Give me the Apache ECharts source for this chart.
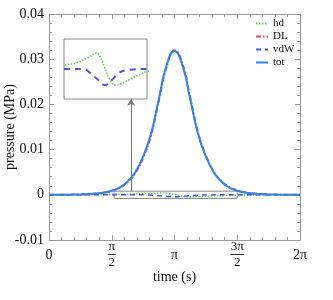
<!DOCTYPE html>
<html><head><meta charset="utf-8">
<script src="https://cdn.jsdelivr.net/npm/echarts@6/dist/echarts.min.js"></script>
<style>html,body{margin:0;padding:0;background:#fff}#c{width:333px;height:300px}</style>
</head><body><div id="c"></div>
<script>
// ---- data ----
var PI = Math.PI;
// sample times for tot / DL (k * pi/16, k = 0..32)
var tMain = [0,0.19635,0.3927,0.58905,0.7854,0.98175,1.1781,1.37445,1.5708,1.76715,1.9635,2.15985,2.3562,2.55255,2.7489,2.94525,3.14159,3.33794,3.53429,3.73064,3.92699,4.12334,4.31969,4.51604,4.71239,4.90874,5.10509,5.30144,5.49779,5.69414,5.89049,6.08684,6.28319];
var pTot = [0,0.00001,0.00002,0.00004,0.00008,0.00015,0.00028,0.0005,0.0009,0.0016,0.0029,0.005,0.0085,0.0135,0.0212,0.0287,0.0318,0.0287,0.0212,0.0135,0.0085,0.005,0.0029,0.0016,0.0009,0.0005,0.00028,0.00015,0.00008,0.00004,0.00002,0.00001,0];
var pDL  = [0,0.00001,0.00002,0.00004,0.00008,0.00015,0.00027,0.00048,0.00087,0.00155,0.0028,0.0048,0.0082,0.0131,0.0208,0.0283,0.0320,0.0291,0.0216,0.0138,0.0087,0.0051,0.0030,0.0017,0.0010,0.00055,0.0003,0.00016,0.00008,0.00004,0.00002,0.00001,0];
var tHd = [0,0.8,1.2,1.667,2.102,2.474,2.782,2.82,2.968,3.154,3.34,3.526,3.775,4.083,4.392,4.704,5.2,5.8,6.28319];
var pHd = [0,0.00002,0.00005,0.000107,0.000168,0.000285,0.000419,0.000435,0.000328,0.000019,-0.000293,-0.000427,-0.000381,-0.000275,-0.00016,-0.000072,-0.00003,-0.00001,0];
var tVdw = [0,1.667,2.347,2.597,2.905,3.154,3.403,3.649,3.961,4.704,6.28319];
var pVdw = [0,0,0,-0.0001,-0.000293,-0.000427,-0.000293,-0.000115,-0.00003,0,0];
var xTickLabels = ['{s|0}','{n|\u03c0}\n{b|}\n{d|2}','{s|\u03c0}','{n|3\u03c0}\n{bw|}\n{d|2}','{s|2\u03c0}'];
var insetX = [1.63, 4.71];
var insetY = [-0.0008, 0.0008];
var arrowT = 2.053, arrowTop = 0.02124;

function zip(a,b){return a.map(function(v,i){return [v,b[i]];});}

var FONT = "'Liberation Serif', 'DejaVu Serif', serif";
var C = {hd:'#55cc55', DL:'#d64d4d', vdW:'#5555d5', tot:'#2f86e8'};
var axisCol = '#999';

var chart = echarts.init(document.getElementById('c'), null, {renderer:'canvas'});
var mainGrid = {left:49, right:33, top:14, bottom:60, containLabel:false, outerBoundsMode:'none'};
var insetGrid = {left:64, top:39, width:83, height:60, show:true, borderColor:'#888', borderWidth:1, backgroundColor:'#fff', z:5, outerBoundsMode:'none'};

function tickAxis(extra){
  return Object.assign({
    axisLine:{show:true, onZero:false, lineStyle:{color:axisCol, width:1}},
    axisTick:{show:true, inside:true, length:5, lineStyle:{color:axisCol}},
    minorTick:{show:true, splitNumber:5, length:3, lineStyle:{color:axisCol}},
    splitLine:{show:false}
  }, extra);
}

var option = {
  animation:false,
  textStyle:{fontFamily:FONT},
  grid:[mainGrid, insetGrid],
  legend:{
    orient:'vertical', left:255, top:18, padding:0, itemWidth:12, itemHeight:8, itemGap:2,
    data:['hd','DL','vdW','tot'],
    textStyle:{fontFamily:FONT, fontSize:11, color:'#111', lineHeight:10},
    itemStyle:{opacity:0}
  },
  xAxis:[
    tickAxis({type:'value', gridIndex:0, min:0, max:2*PI, interval:PI/2, position:'bottom',
      name:'time (s)', nameLocation:'middle', nameGap:30, nameMoveOverlap:false,
      nameTextStyle:{fontFamily:FONT, fontSize:14, color:'#111'},
      axisLabel:{margin:15, verticalAlign:'middle', fontFamily:FONT, fontSize:14, color:'#111',
        formatter:function(v){return xTickLabels[Math.round(v/(PI/2))];},
        rich:{
          n:{fontFamily:FONT, fontSize:13, lineHeight:11, align:'center', color:'#111'},
          d:{fontFamily:FONT, fontSize:13, lineHeight:12, align:'center', color:'#111'},
          s:{fontFamily:FONT, fontSize:14, align:'center', color:'#111'},
          b:{width:8, height:1, backgroundColor:'#333', lineHeight:5, align:'center'},
          bw:{width:14, height:1, backgroundColor:'#333', lineHeight:5, align:'center'}
        }}}),
    tickAxis({type:'value', gridIndex:0, min:0, max:2*PI, interval:PI/2, position:'top', axisLabel:{show:false}}),
    {type:'value', gridIndex:1, min:insetX[0], max:insetX[1], show:false}
  ],
  yAxis:[
    tickAxis({type:'value', gridIndex:0, min:-0.01, max:0.04, interval:0.01, position:'left',
      name:'pressure (MPa)', nameLocation:'middle', nameGap:32, nameMoveOverlap:false,
      nameTextStyle:{fontFamily:FONT, fontSize:14, color:'#111'},
      axisLabel:{margin:5, fontFamily:FONT, fontSize:14, color:'#111'}}),
    tickAxis({type:'value', gridIndex:0, min:-0.01, max:0.04, interval:0.01, position:'right', axisLabel:{show:false}}),
    {type:'value', gridIndex:1, min:insetY[0], max:insetY[1], show:false}
  ],
  series:[
    {name:'hd', type:'line', xAxisIndex:0, yAxisIndex:0, data:zip(tHd,pHd), smooth:true, symbol:'none',
      lineStyle:{color:C.hd, width:1.5, type:[1.5,1.5]}, itemStyle:{color:C.hd}},
    {name:'DL', type:'line', xAxisIndex:0, yAxisIndex:0, data:zip(tMain,pDL), smooth:true, symbol:'none',
      lineStyle:{color:C.DL, width:2, type:[5,2,1.5,2]}, itemStyle:{color:C.DL}},
    {name:'vdW', type:'line', xAxisIndex:0, yAxisIndex:0, data:zip(tVdw,pVdw), smooth:true, symbol:'none',
      lineStyle:{color:C.vdW, width:1.5, type:[5,4]}, itemStyle:{color:C.vdW},
      markArea:{silent:true, itemStyle:{color:'rgba(0,0,0,0)', borderColor:'#888', borderWidth:1},
        data:[[{coord:[insetX[0], insetY[1]]},{coord:[insetX[1], insetY[0]]}]]},
      markLine:{silent:true, symbol:['none','arrow'], symbolSize:[6,7], label:{show:false},
        lineStyle:{color:'#777', width:1, type:'solid'},
        data:[[{coord:[arrowT, insetY[1]]},{coord:[arrowT, arrowTop]}]]}},
    {name:'tot', type:'line', xAxisIndex:0, yAxisIndex:0, data:zip(tMain,pTot), smooth:true, symbol:'none',
      lineStyle:{color:C.tot, width:2}, itemStyle:{color:C.tot}},
    {name:'hd', type:'line', xAxisIndex:2, yAxisIndex:2, data:zip(tHd,pHd), smooth:true, symbol:'none', z:6,
      lineStyle:{color:C.hd, width:1.5, type:[1.5,1.5]}},
    {name:'vdW', type:'line', xAxisIndex:2, yAxisIndex:2, data:zip(tVdw,pVdw), smooth:true, symbol:'none', z:6,
      lineStyle:{color:C.vdW, width:2, type:[6,5]}}
  ]
};
chart.setOption(option);
</script></body></html>
